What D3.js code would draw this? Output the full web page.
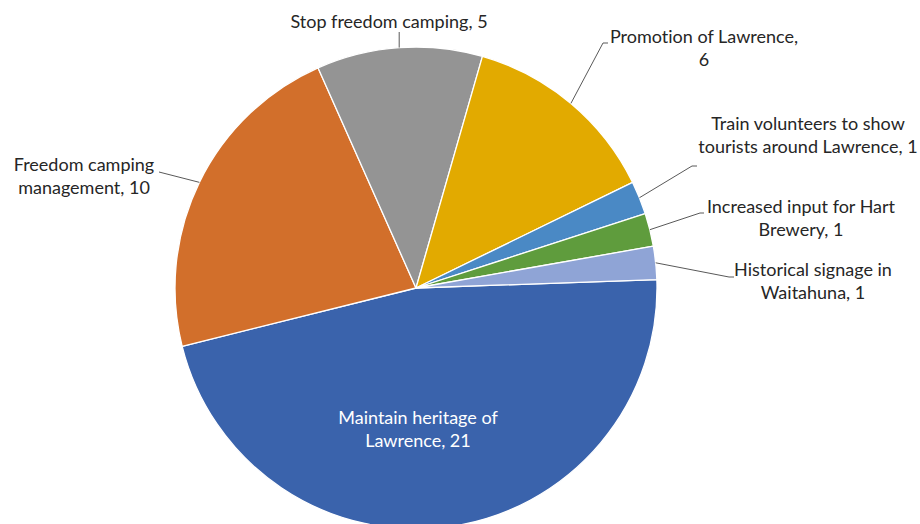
<!DOCTYPE html>
<html><head><meta charset="utf-8">
<script src="https://cdn.jsdelivr.net/npm/d3@7"></script>
<style>body{margin:0;background:#fff}svg{display:block}text{font-variant-ligatures:none;font-feature-settings:"liga" 0}</style>
</head><body>
<svg id="c" width="920" height="524"></svg>
<script>
const categories = ["Maintain heritage of Lawrence","Freedom camping management","Stop freedom camping","Promotion of Lawrence","Train volunteers to show tourists around Lawrence","Increased input for Hart Brewery","Historical signage in Waitahuna"];
const values = [21,10,5,6,1,1,1];
const labelLines = [
  ["Maintain heritage of","Lawrence, 21"],
  ["Freedom camping","management, 10"],
  ["Stop freedom camping, 5"],
  ["Promotion of Lawrence,","6"],
  ["Train volunteers to show","tourists around Lawrence, 1"],
  ["Increased input for Hart","Brewery, 1"],
  ["Historical signage in","Waitahuna, 1"]
];
const colors = ["#3A63AC","#D26F2B","#949494","#E2AA00","#4A89C5","#5F9C3D","#8FA4D6"];

// layout (not data): label centers, first baseline, leader elbow points
const layout = [
  {x:418, y:424, inside:true},
  {x:84, y:171, elbow:[[159,172]]},
  {x:389, y:28, elbow:[]},
  {x:704, y:43, elbow:[[603,43],[608,43]]},
  {x:808, y:130, elbow:[[692,166],[697,166]]},
  {x:801, y:213, elbow:[[700,213],[704,213]]},
  {x:813, y:276, elbow:[[729,277],[734,277]]}
];

const cx = 416, cy = 288, R = 241;
const svg = d3.select("#c");
const g = svg.append("g").attr("transform",`translate(${cx},${cy})`);
const pie = d3.pie().value(d=>d).sort(null).startAngle(88*Math.PI/180).endAngle(88*Math.PI/180+2*Math.PI);
const arcs = pie(values);
const arc = d3.arc().innerRadius(0).outerRadius(R);
g.selectAll("path.s").data(arcs).join("path").attr("class","s")
  .attr("d",arc).attr("fill",(d,i)=>colors[i]).attr("stroke","#fff").attr("stroke-width",1.3).attr("stroke-linejoin","round");

const font = "Lato, 'Open Sans', sans-serif";
arcs.forEach((a,i)=>{
  const L = layout[i];
  if(!L.inside){
    const m = (a.startAngle+a.endAngle)/2;
    const sx = cx + R*Math.sin(m), sy = cy - R*Math.cos(m);
    let pts = [[sx,sy]];
    if(L.elbow.length===0) pts.push([sx, L.y+4]);
    else pts = pts.concat(L.elbow);
    svg.append("path").attr("d", d3.line()(pts)).attr("fill","none").attr("stroke","#595959").attr("stroke-width",1);
  }
  const t = svg.append("text").attr("x",L.x).attr("y",L.y).attr("text-anchor","middle")
    .attr("font-family",font).attr("font-size",18).attr("fill", L.inside?"#fff":"#262626");
  labelLines[i].forEach((ln,k)=>t.append("tspan").attr("x",L.x).attr("dy",k?23:0).text(ln));
});
</script>
</body></html>
